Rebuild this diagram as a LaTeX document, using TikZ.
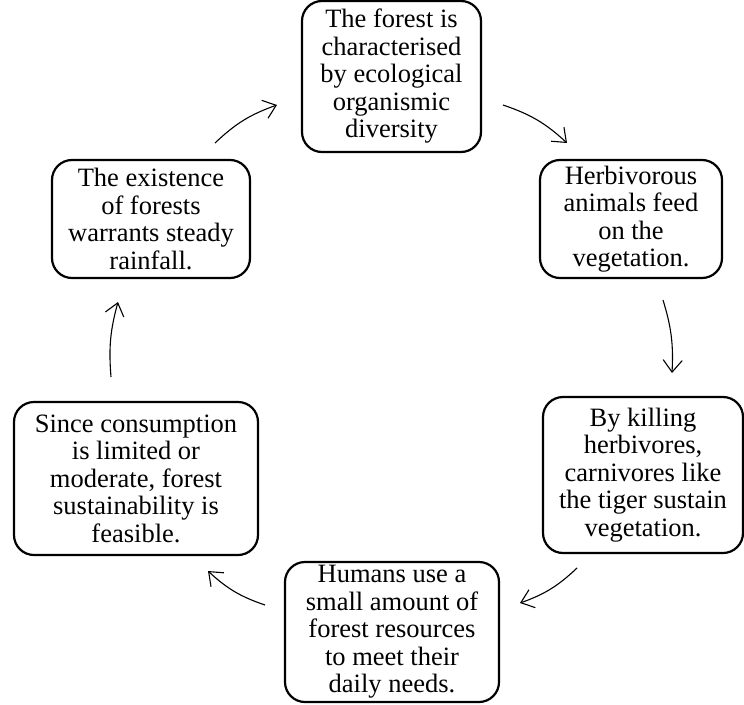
\documentclass[tikz,border=0pt]{standalone}
\usepackage{fontspec}
\setmainfont{Liberation Serif}
\usetikzlibrary{arrows.meta}
\begin{document}
\begin{tikzpicture}[x=1pt,y=1pt,
  box/.style={draw, line width=2.2pt, rounded corners=20pt, align=center, inner sep=0pt,
    font=\fontsize{26.5}{27.5}\selectfont},
  arr/.style={line width=1.1pt, -{Straight Barb[length=12pt,width=19pt,line width=1.1pt]}}]
\useasboundingbox (0,0) rectangle (744,-704);
\node[box, minimum width=179pt, minimum height=151pt] (top) at (391.5,-76.5)
  {The forest is\\characterised\\by ecological\\organismic\\diversity};
\node[box, minimum width=182pt, minimum height=118pt] (herb) at (631,-219)
  {Herbivorous\\animals feed\\on the\\vegetation.};
\node[box, minimum width=200pt, minimum height=156pt] (kill) at (643,-475)
  {By killing\\herbivores,\\carnivores like\\the tiger sustain\\vegetation.};
\node[box, minimum width=214pt, minimum height=140pt] (hum) at (392,-632)
  {Humans use a\\small amount of\\forest resources\\to meet their\\daily needs.};
\node[box, minimum width=244pt, minimum height=153pt] (since) at (136,-478.5)
  {Since consumption\\is limited or\\moderate, forest\\sustainability is\\feasible.};
\node[box, minimum width=198pt, minimum height=118pt] (exist) at (151,-219)
  {The existence\\of forests\\warrants steady\\rainfall.};
\coordinate (a1s) at (503,-105); \coordinate (a1e) at (567,-143);
\coordinate (a2s) at (663,-300); \coordinate (a2e) at (672,-373);
\coordinate (a3s) at (577,-568); \coordinate (a3e) at (520,-603);
\coordinate (a4s) at (265,-605); \coordinate (a4e) at (208,-571);
\coordinate (a5s) at (111,-377); \coordinate (a5e) at (118,-302);
\coordinate (a6s) at (215,-143); \coordinate (a6e) at (277,-105);
\draw[arr] (a1s) to[bend left=12] (a1e);
\draw[arr] (a2s) to[bend left=10] (a2e);
\draw[arr] (a3s) to[bend left=12] (a3e);
\draw[arr] (a4s) to[bend left=12] (a4e);
\draw[arr] (a5s) to[bend left=10] (a5e);
\draw[arr] (a6s) to[bend left=12] (a6e);
\end{tikzpicture}
\end{document}
